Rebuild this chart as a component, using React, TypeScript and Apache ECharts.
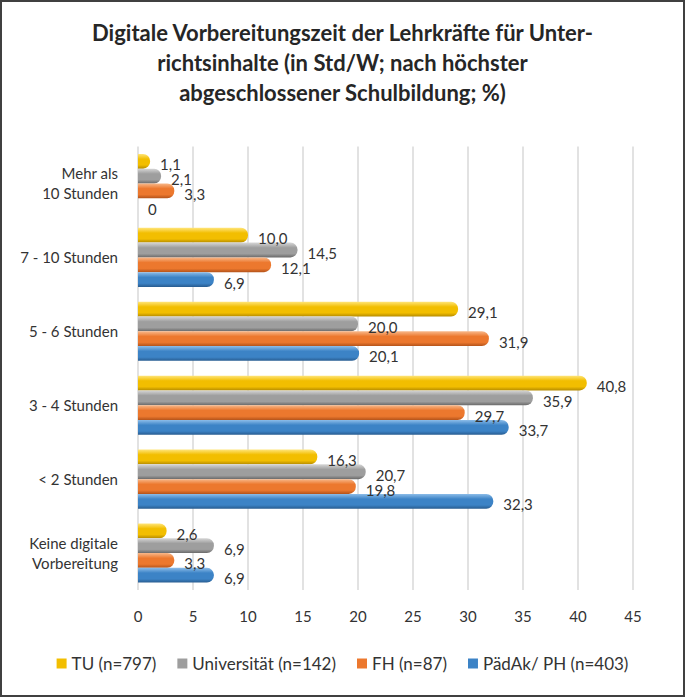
import React, { useEffect, useRef } from "react";
import * as echarts from "echarts";

const categories = [
  "Mehr als\n10 Stunden",
  "7 - 10 Stunden",
  "5 - 6 Stunden",
  "3 - 4 Stunden",
  "< 2 Stunden",
  "Keine digitale\nVorbereitung",
];
const seriesNames = ["TU (n=797)", "Universität (n=142)", "FH (n=87)", "PädAk/ PH (n=403)"];
const tuValues = [1.1, 10.0, 29.1, 40.8, 16.3, 2.6];
const uniValues = [2.1, 14.5, 20.0, 35.9, 20.7, 6.9];
const fhValues = [3.3, 12.1, 31.9, 29.7, 19.8, 3.3];
const phValues = [0, 6.9, 20.1, 33.7, 32.3, 6.9];
const xTicks = [0, 5, 10, 15, 20, 25, 30, 35, 40, 45];

const baseColors = ["#F2BE00", "#9E9E9E", "#EC782E", "#3C83C6"];
const lightColors = ["#FFE57A", "#D6D6D6", "#F8B88A", "#8DBDE9"];
const darkColors = ["#B58B00", "#6A6A6A", "#B4531A", "#285C90"];

const FONT = "Lato, 'Open Sans', sans-serif";

function fmt(v: number): string {
  if (v === 0) return "0";
  return v.toFixed(1).replace(".", ",");
}

export default function App() {
  const ref = useRef<HTMLDivElement>(null);
  useEffect(() => {
    if (!ref.current) return;
    const chart = echarts.init(ref.current, null, { renderer: "svg" });
    const allValues = [tuValues, uniValues, fhValues, phValues];
    const series = allValues.map((vals, i) => ({
      name: seriesNames[i],
      type: "bar",
      data: vals,
      barGap: "0%",
      barCategoryGap: "20%",
      itemStyle: {
        borderRadius: [0, 7, 7, 0],
        color: new echarts.graphic.LinearGradient(0, 0, 0, 1, [
          { offset: 0, color: lightColors[i] },
          { offset: 0.35, color: baseColors[i] },
          { offset: 0.75, color: baseColors[i] },
          { offset: 1, color: darkColors[i] },
        ]),
      },
      label: {
        show: true,
        position: "right",
        distance: 10,
        offset: [0, 3],
        fontFamily: FONT,
        fontSize: 15,
        color: "#333",
        formatter: (p: any) => fmt(p.value),
      },
    }));
    chart.setOption({
      animation: false,
      backgroundColor: "#fff",
      title: {
        text: "Digitale Vorbereitungszeit der Lehrkräfte für Unter-\nrichtsinhalte (in Std/W; nach höchster\nabgeschlossener Schulbildung; %)",
        left: "center",
        top: 10,
        textStyle: {
          fontFamily: FONT,
          fontWeight: "bold",
          fontSize: 22,
          lineHeight: 30,
          color: "#262626",
        },
      },
      legend: {
        bottom: 18,
        left: "center",
        itemWidth: 10,
        itemHeight: 10,
        itemGap: 21,
        icon: "rect",
        textStyle: { fontFamily: FONT, fontSize: 17, color: "#333" },
        data: seriesNames.map((n, i) => ({ name: n, itemStyle: { color: baseColors[i] } })),
      },
      grid: { left: 136, right: 50, top: 144.5, bottom: 105, containLabel: false },
      xAxis: {
        type: "value",
        min: 0,
        max: 45,
        interval: 5,
        axisLine: { show: false },
        axisTick: { show: false },
        splitLine: { show: true, lineStyle: { color: "#D9D9D9", width: 1.5 } },
        axisLabel: {
          margin: 18,
          fontFamily: FONT,
          fontSize: 15,
          color: "#333",
          formatter: (v: number) => (xTicks.includes(v) ? String(v) : ""),
        },
      },
      yAxis: {
        type: "category",
        data: categories,
        inverse: true,
        axisLine: { show: false },
        axisTick: { show: false },
        axisLabel: {
          margin: 20,
          fontFamily: FONT,
          fontSize: 15,
          lineHeight: 20,
          color: "#333",
          align: "right",
        },
      },
      series,
    });
    return () => chart.dispose();
  }, []);
  return (
    <div
      style={{
        position: "fixed",
        left: 0,
        top: 0,
        width: 685,
        height: 697,
        boxSizing: "border-box",
        border: "2px solid #404040",
        background: "#fff",
      }}
    >
      <div ref={ref} style={{ width: 681, height: 693 }} />
    </div>
  );
}
